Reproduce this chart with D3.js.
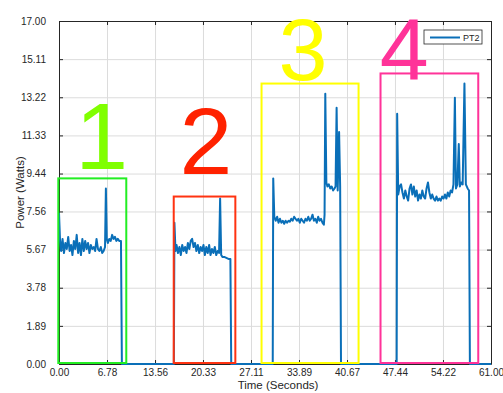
<!doctype html>
<html>
  <head>
    <meta charset="UTF-8">
    <title>PT2 power</title>
    <script src="https://cdn.jsdelivr.net/npm/d3@7"></script>
    <style>
      body { margin: 0; background: #fff; }
      svg text { font-family: "Liberation Sans", Arial, Helvetica, sans-serif; }
      .grid line { stroke: #dcdcdc; stroke-width: 1px; }
      .grid path { display: none; }
      .axis path, .axis line { stroke: #262626; stroke-width: 1px; }
      .axis text { fill: #262626; font-size: 10px; }
    </style>
  </head>
  <body>
    <svg id="chart" width="503" height="393"></svg>
    <script>
      // sample times (s) and measured power (W) of PT2
      const time = [
        0.0, 0.15, 0.3, 0.5, 0.7, 0.9, 1.1, 1.3, 1.5, 1.7, 1.9, 2.1, 2.3, 2.5, 2.7, 2.9,
        3.1, 3.3, 3.5, 3.7, 3.9, 4.1, 4.3, 4.5, 4.7, 4.9, 5.1, 5.3, 5.5, 5.7, 5.9, 6.1,
        6.3, 6.5, 6.62, 6.75, 6.9, 7.1, 7.3, 7.5, 7.7, 7.9, 8.1, 8.3, 8.5, 8.75, 8.88,
        16.22,
        16.3, 16.45, 16.6, 16.8, 17.0, 17.2, 17.4, 17.6, 17.8, 18.0, 18.2, 18.4, 18.6, 18.8,
        19.0, 19.2, 19.4, 19.6, 19.8, 20.0, 20.2, 20.4, 20.6, 20.8, 21.0, 21.2, 21.4, 21.6,
        21.8, 22.0, 22.2, 22.4, 22.6, 22.75, 22.9, 23.1, 23.4, 23.7, 24.0, 24.2, 24.32,
        30.18,
        30.25, 30.4, 30.6, 30.8, 31.0, 31.2, 31.4, 31.6, 31.8, 32.0, 32.2, 32.4, 32.6, 32.8,
        33.0, 33.2, 33.4, 33.6, 33.8, 34.0, 34.2, 34.4, 34.6, 34.8, 35.0, 35.2, 35.4, 35.6,
        35.8, 36.0, 36.2, 36.4, 36.6, 36.8, 37.0, 37.2, 37.4, 37.5, 37.6, 37.75, 37.9, 38.1,
        38.3, 38.5, 38.7, 38.9, 39.05, 39.2, 39.35, 39.55, 39.7, 39.82,
        47.68,
        47.75, 47.9, 48.1, 48.3, 48.5, 48.7, 48.9, 49.1, 49.3, 49.5, 49.7, 49.9, 50.1, 50.3,
        50.5, 50.7, 50.9, 51.1, 51.3, 51.5, 51.7, 51.9, 52.1, 52.3, 52.5, 52.7, 52.9, 53.1,
        53.3, 53.5, 53.7, 53.9, 54.1, 54.3, 54.5, 54.7, 54.9, 55.1, 55.3, 55.5, 55.7, 55.9,
        56.05, 56.25, 56.45, 56.6, 56.8, 57.0, 57.25, 57.45, 57.7, 57.9, 58.02,
        61.0
      ];
      const power = [
        7.5, 6.1, 5.6, 6.2, 5.5, 6.0, 5.7, 6.3, 5.6, 5.9, 5.4, 6.1, 5.7, 6.4, 5.5, 6.0,
        5.4, 6.2, 5.6, 6.1, 5.7, 6.0, 5.5, 5.9, 5.7, 5.8, 5.6, 6.2, 5.7, 5.6, 5.8, 5.5,
        5.6, 5.8, 8.7, 6.2, 6.0, 6.2, 6.1, 6.4, 6.2, 6.3, 6.1, 6.2, 6.1, 6.1, 0,
        0,
        7.0, 5.6, 5.9, 5.5, 5.8, 5.4, 5.9, 5.6, 5.8, 5.5, 6.0, 5.7, 6.1, 6.2,
        5.8, 6.0, 5.6, 5.9, 5.5, 5.8, 5.6, 5.9, 5.4, 5.8, 5.5, 5.9, 5.4, 5.7,
        5.5, 5.8, 5.4, 5.6, 5.5, 8.2, 5.4, 5.3, 5.3, 5.25, 5.2, 5.2, 0,
        0,
        9.2, 7.3, 7.1, 7.3, 7.0, 7.2, 7.0, 7.1, 6.95, 7.1, 7.0, 7.1, 7.05, 7.2,
        7.1, 7.3, 7.2, 7.1, 7.2, 7.0, 7.2, 7.1, 7.0, 7.2, 7.1, 7.3, 7.1, 7.2,
        7.4, 7.1, 7.2, 7.0, 7.3, 7.1, 7.2, 7.0, 6.9, 7.4, 13.4, 9.0, 8.8, 8.9,
        8.7, 8.8, 8.6, 8.7, 8.8, 12.7, 8.6, 11.5, 8.8, 0,
        0,
        12.4, 8.4, 8.8, 8.9, 8.5, 8.2, 8.6, 8.3, 8.1, 8.7, 8.9, 8.4, 8.8, 8.3,
        8.6, 8.1, 8.4, 8.2, 8.6, 8.3, 8.2, 8.7, 9.0, 8.5, 8.2, 8.4, 8.2, 8.1,
        8.3, 8.1, 8.2, 8.1, 8.3, 8.2, 8.4, 8.2, 8.5, 8.3, 8.6, 8.5, 8.9, 13.2,
        8.7, 8.9, 10.9, 8.8, 9.0, 8.9, 13.9, 8.9, 8.7, 8.6, 0,
        0
      ];

      const xTicks = [0.00, 6.78, 13.56, 20.33, 27.11, 33.89, 40.67, 47.44, 54.22, 61.00];
      const yTicks = [0.00, 1.89, 3.78, 5.67, 7.56, 9.44, 11.33, 13.22, 15.11, 17.00];

      // highlighted test runs: label, colour, box corners in data units
      const runLabels = ["1", "2", "3", "4"];
      const runColors = ["#22ee22", "#ff3311", "#ffff00", "#ff3399"];
      const labelColors = ["#80ff00", "#ff2200", "#ffff00", "#ff3399"];
      const boxT0 = [-0.1, 16.2, 28.6, 45.4];
      const boxT1 = [9.5, 24.9, 42.3, 59.2];
      const boxP1 = [9.2, 8.3, 13.9, 14.4];
      const labelT = [2.3, 17.0, 31.0, 45.3];
      const labelP = [9.65, 9.4, 14.1, 14.1];
      const labelSize = [95, 95, 88, 88];

      const svg = d3.select("#chart");
      const margin = { left: 59, right: 12, top: 21, bottom: 29 };
      const W = +svg.attr("width") - margin.left - margin.right;
      const H = +svg.attr("height") - margin.top - margin.bottom;

      const x = d3.scaleLinear().domain([0, 61]).range([0, W]);
      const y = d3.scaleLinear().domain([0, 17]).range([H, 0]);

      const g = svg.append("g").attr("transform", `translate(${margin.left},${margin.top})`);

      // grid lines
      g.append("g").attr("class", "grid")
        .attr("transform", `translate(0,${H})`)
        .call(d3.axisBottom(x).tickValues(xTicks).tickSize(-H).tickFormat(""));
      g.append("g").attr("class", "grid")
        .call(d3.axisLeft(y).tickValues(yTicks).tickSize(-W).tickFormat(""));

      // box axes with inward ticks
      const fmt = d3.format(".2f");
      g.append("g").attr("class", "axis")
        .attr("transform", `translate(0,${H})`)
        .call(d3.axisBottom(x).tickValues(xTicks).tickSizeInner(-4).tickSizeOuter(0).tickPadding(5).tickFormat(fmt));
      g.append("g").attr("class", "axis")
        .call(d3.axisTop(x).tickValues(xTicks).tickSizeInner(-4).tickSizeOuter(0).tickFormat(""));
      g.append("g").attr("class", "axis")
        .call(d3.axisLeft(y).tickValues(yTicks).tickSizeInner(-4).tickSizeOuter(0).tickPadding(13).tickFormat(fmt));
      g.append("g").attr("class", "axis")
        .attr("transform", `translate(${W},0)`)
        .call(d3.axisRight(y).tickValues(yTicks).tickSizeInner(-4).tickSizeOuter(0).tickFormat(""));

      // the power trace
      const line = d3.line()
        .x((d, i) => x(time[i]))
        .y(d => y(d));
      g.append("path")
        .datum(power)
        .attr("fill", "none")
        .attr("stroke", "#0a6fb8")
        .attr("stroke-width", 2)
        .attr("stroke-linejoin", "round")
        .attr("d", line);

      // axis titles
      svg.append("text")
        .attr("x", margin.left + W / 2 + 3).attr("y", 389)
        .attr("text-anchor", "middle").attr("font-size", 11.5).attr("fill", "#262626")
        .text("Time (Seconds)");
      svg.append("text")
        .attr("transform", `translate(24,${margin.top + H / 2}) rotate(-90)`)
        .attr("text-anchor", "middle").attr("font-size", 11.5).attr("fill", "#262626")
        .text("Power (Watts)");

      // legend
      const leg = g.append("g").attr("transform", `translate(${W - 67},9)`);
      leg.append("rect").attr("width", 58).attr("height", 14)
        .attr("fill", "#fff").attr("stroke", "#262626").attr("stroke-width", 0.8);
      leg.append("line").attr("x1", 6).attr("x2", 36).attr("y1", 7.5).attr("y2", 7.5)
        .attr("stroke", "#0a6fb8").attr("stroke-width", 2);
      leg.append("text").attr("x", 39).attr("y", 10.5).attr("font-size", 9).attr("fill", "#262626")
        .text("PT2");

      // annotation boxes and big numbers
      runLabels.forEach((lab, i) => {
        g.append("rect")
          .attr("x", x(boxT0[i])).attr("y", y(boxP1[i]))
          .attr("width", x(boxT1[i]) - x(boxT0[i])).attr("height", y(0) - y(boxP1[i]) - 1)
          .attr("fill", "none").attr("stroke", runColors[i]).attr("stroke-width", 2);
        g.append("text")
          .attr("x", x(labelT[i])).attr("y", y(labelP[i]))
          .attr("font-size", labelSize[i]).attr("fill", labelColors[i])
          .text(lab);
      });
    </script>
  </body>
</html>
